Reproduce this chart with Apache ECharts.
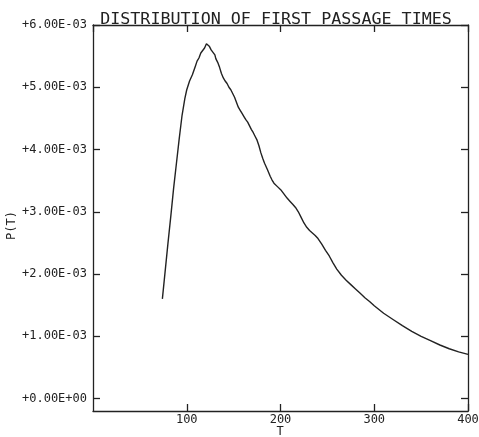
<!DOCTYPE html>
<html>
<head>
<meta charset="utf-8">
<script src="https://cdn.jsdelivr.net/npm/echarts@6/dist/echarts.min.js"></script>
<style>html,body{margin:0;padding:0;background:#fff}#c{width:479px;height:437px}</style>
</head>
<body>
<div id="c"></div>
<script>
const titleText = "DISTRIBUTION OF FIRST PASSAGE TIMES";
const xName = "T";
const yName = "P(T)";
const xTicks = [100, 200, 300, 400];
const yTicks = [0, 0.001, 0.002, 0.003, 0.004, 0.005, 0.006];
const tValues = [74,77,80,83,86,89,92,95,98,100,103,106,109,111,113,115,117,119,121,122,124,126,128,130,131,133,135,137,139,141,143,145,147,149,151,153,155,157,159,161,163,165,167,169,171,173,175,177,179,181,183,186,189,191,193,195,197,199,201,204,207,210,213,216,219,222,225,228,231,234,237,240,244,248,252,256,260,265,270,275,280,285,290,295,300,310,320,330,340,350,360,370,380,390,400];
const pValues = [1.60,2.05,2.50,2.93,3.38,3.78,4.18,4.55,4.82,4.96,5.10,5.20,5.33,5.42,5.47,5.55,5.58,5.63,5.70,5.72,5.66,5.60,5.56,5.52,5.46,5.40,5.32,5.22,5.15,5.10,5.06,5.00,4.96,4.90,4.84,4.76,4.68,4.63,4.58,4.53,4.48,4.44,4.38,4.32,4.27,4.21,4.15,4.06,3.95,3.86,3.78,3.68,3.57,3.51,3.46,3.43,3.40,3.37,3.34,3.28,3.22,3.17,3.12,3.07,3.00,2.91,2.82,2.75,2.70,2.66,2.62,2.57,2.48,2.38,2.29,2.18,2.08,1.98,1.90,1.83,1.76,1.69,1.62,1.56,1.49,1.37,1.27,1.17,1.08,1.00,0.93,0.86,0.80,0.75,0.71].map(v => v * 1e-3);

function sci(v) {
  if (Math.abs(v) < 1e-12) return "+0.00E+00";
  const e = Math.floor(Math.log10(Math.abs(v)) + 1e-9);
  const m = v / Math.pow(10, e);
  const es = (e < 0 ? "-" : "+") + String(Math.abs(e)).padStart(2, "0");
  return (m >= 0 ? "+" : "-") + Math.abs(m).toFixed(2) + "E" + es;
}

const font = "'DejaVu Sans Mono', monospace";
const ink = "#222";
const lineStyle = { color: ink, width: 1.3 };
const chart = echarts.init(document.getElementById('c'), null, { renderer: 'canvas' });
chart.setOption({
  animation: false,
  backgroundColor: '#fff',
  title: {
    text: titleText, left: 271, top: 6, textAlign: 'center',
    textStyle: { fontFamily: font, fontSize: 16.7, fontWeight: 'normal', color: ink }
  },
  grid: { left: 93, right: 11, top: 25, bottom: 26, containLabel: false, outerBoundsMode: 'none' },
  xAxis: [{
    type: 'value', min: 0, max: 400, interval: 100, position: 'bottom',
    axisLine: { show: true, onZero: false, lineStyle },
    axisTick: { show: true, inside: true, length: 7, lineStyle },
    axisLabel: { fontFamily: font, fontSize: 12, color: ink, margin: 3, showMinLabel: false,
      formatter: v => (xTicks.includes(v) ? String(v) : '') },
    splitLine: { show: false }
  }, {
    type: 'value', min: 0, max: 400, interval: 100, position: 'top',
    axisLine: { show: true, onZero: false, lineStyle },
    axisTick: { show: true, inside: true, length: 7, lineStyle },
    axisLabel: { show: false }, splitLine: { show: false }
  }],
  yAxis: [{
    type: 'value', min: -0.0002, max: 0.006, position: 'left',
    axisLine: { show: true, onZero: false, lineStyle },
    axisTick: { show: true, inside: true, length: 7, lineStyle, customValues: yTicks },
    axisLabel: { fontFamily: font, fontSize: 12, color: ink, margin: 6, customValues: yTicks, formatter: v => sci(v) },
    splitLine: { show: false }
  }, {
    type: 'value', min: -0.0002, max: 0.006, position: 'right',
    axisLine: { show: true, onZero: false, lineStyle },
    axisTick: { show: true, inside: true, length: 7, lineStyle, customValues: yTicks },
    axisLabel: { show: false }, splitLine: { show: false }
  }],
  graphic: [{
    type: 'text', left: 6, top: 211, rotation: Math.PI / 2,
    style: { text: yName, fontFamily: font, fontSize: 12, fill: ink }
  }, {
    type: 'text', x: 280, y: 432,
    style: { text: xName, fontFamily: font, fontSize: 12, fill: ink, align: 'center', verticalAlign: 'middle' }
  }],
  series: [{
    type: 'line', xAxisIndex: 0, yAxisIndex: 0,
    data: tValues.map((t, i) => [t, pValues[i]]),
    showSymbol: false, symbol: 'none',
    lineStyle: { color: ink, width: 1.4 }
  }]
});
</script>
</body>
</html>
